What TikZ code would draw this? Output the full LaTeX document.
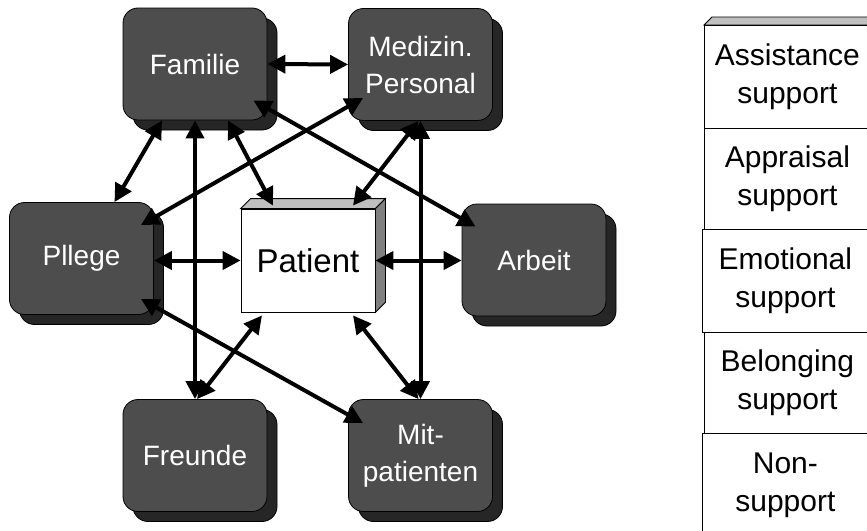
\documentclass[tikz,border=0pt]{standalone}
\usepackage{fontspec}
\setmainfont{Liberation Sans}
\usetikzlibrary{arrows.meta,shadows,calc}
\definecolor{boxgray}{RGB}{77,77,77}
\definecolor{shadowgray}{RGB}{38,38,38}
\definecolor{topgray}{RGB}{192,192,192}
\definecolor{sidegray}{RGB}{128,128,128}
\begin{document}
\begin{tikzpicture}[x=1pt,y=-1pt,
  sbox/.style={rectangle, rounded corners=15pt, draw=black, line width=0.8pt,
    fill=boxgray, text=white, minimum width=144pt, minimum height=112pt,
    inner sep=0pt, align=center, font=\fontsize{28}{37}\selectfont,
    general shadow={shadow xshift=10pt, shadow yshift=-10pt, fill=shadowgray,
      draw=black, line width=0.8pt}},
  pbox/.style={rectangle, draw=black, line width=0.8pt, fill=white,
    minimum width=134pt, minimum height=103pt, inner sep=0pt,
    font=\fontsize{33}{38}\selectfont},
  face/.style={draw=black, line width=0.8pt},
  link/.style={line width=4pt,
    {Triangle[length=18pt,width=18pt]}-{Triangle[length=18pt,width=18pt]}},
  cell/.style={rectangle, draw=black, line width=0.8pt, minimum width=166pt,
    inner sep=0pt, align=center, anchor=north west,
    font=\fontsize{30}{38}\selectfont}
]
\clip (0,0) rectangle (867,530);

% boxes
\node[sbox] (fam) at (195,64) {Familie};
\node[sbox] (med) at (420.5,64.5) {Medizin.\\Personal};
\node[sbox] (pfl) at (81.5,258.5) {Pllege};
\node[sbox] (arb) at (534,260) {Arbeit};
\node[sbox] (fre) at (195,455.5) {Freunde};
\node[sbox] (mit) at (420.5,455.5) {Mit-\\patienten};

% patient 3D box
\node[pbox] (pat) at (308,260.5) {Patient};
\filldraw[face, fill=topgray] (pat.north west) -- ++(10pt,10pt)
  -- ([shift={(10pt,10pt)}]pat.north east) -- (pat.north east) -- cycle;
\filldraw[face, fill=sidegray] (pat.north east) -- ++(10pt,10pt)
  -- ([shift={(10pt,10pt)}]pat.south east) -- (pat.south east) -- cycle;

% connectors
\draw[link] (fam.east) -- (med.west);
\draw[link] ([xshift=-33pt]fam.south) -- ([xshift=33pt]pfl.north);
\draw[link] (fam.south) -- (fre.north);
\draw[link] ([xshift=33pt]fam.south) -- ([xshift=-35pt,yshift=3pt]pat.north);
\draw[link] ([xshift=-14pt,yshift=20pt]fam.south east) -- ([xshift=14pt,yshift=-23pt]arb.north west);
\draw[link] ([xshift=15pt,yshift=23pt]med.south west) -- ([xshift=-13pt,yshift=-23pt]pfl.north east);
\draw[link] ([xshift=-2pt]med.south) -- ([xshift=45pt,yshift=3pt]pat.north);
\draw[link] (med.south) -- (mit.north);
\draw[link] (pat.west -| pfl.east) -- (pat.west);
\draw[link] (pat.east) -- (pat.east -| arb.west);
\draw[link] ([xshift=-13pt,yshift=16pt]pfl.south east) -- ([xshift=15pt,yshift=-24pt]mit.north west);
\draw[link] ([xshift=-46pt,yshift=-3pt]pat.south) -- ([xshift=2pt]fre.north);
\draw[link] ([xshift=45pt,yshift=-3pt]pat.south) -- ([xshift=-2pt]mit.north);

% support table
\filldraw[face, fill=topgray] (704,25) -- (712,17) -- (880,17) -- (880,25) -- cycle;
\node[cell, minimum height=103pt] (r1) at (704,25) {Assistance\\support};
\node[cell, minimum height=101pt] (r2) at (704,128) {Appraisal\\support};
\node[cell, minimum height=103pt] (r3) at (702,229) {Emotional\\support};
\node[cell, minimum height=101pt] (r4) at (704,332) {Belonging\\support};
\node[cell, minimum height=103pt] (r5) at (702,433) {Non-\\support};
\end{tikzpicture}
\end{document}
